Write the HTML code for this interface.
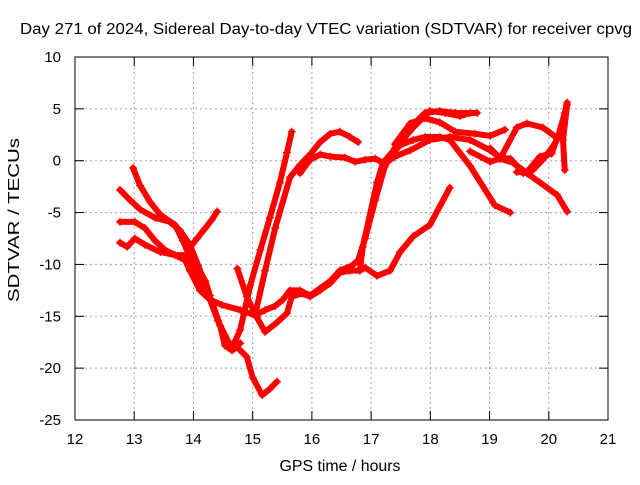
<!DOCTYPE html>
<html><head><meta charset="utf-8"><style>
body{margin:0;background:#fff;font-family:"Liberation Sans",sans-serif}
svg text{font-family:"Liberation Sans",sans-serif;font-size:14px;fill:#000}
</style></head><body>
<svg id="chart" width="640" height="480" xmlns="http://www.w3.org/2000/svg">
<rect width="640" height="480" fill="#fff"/>
<text x="20" y="34" style="font-size:15.5px" textLength="612" lengthAdjust="spacingAndGlyphs">Day 271 of 2024, Sidereal Day-to-day VTEC variation (SDTVAR) for receiver cpvg</text>
<text x="340" y="471" style="font-size:15.5px" text-anchor="middle" textLength="121" lengthAdjust="spacingAndGlyphs">GPS time / hours</text>
<text transform="translate(19,220) rotate(-90)" style="font-size:15.5px" text-anchor="middle" textLength="164" lengthAdjust="spacingAndGlyphs">SDTVAR / TECUs</text>
<g id="grid"></g><g id="series"></g>
<rect x="75" y="57" width="533" height="363" fill="none" stroke="#000" stroke-width="1"/>
<g id="ticks"></g>
</svg>
<script>
const xTicks=[12,13,14,15,16,17,18,19,20,21];
const yTicks=[-25,-20,-15,-10,-5,0,5,10];
const s1=[[12.76,-2.8],[12.93,-3.8],[13.10,-4.7],[13.35,-5.5],[13.60,-5.9],[13.77,-6.7],[13.94,-8.1],[14.08,-10.1],[14.20,-12.0],[14.33,-13.9],[14.45,-15.9],[14.53,-17.8],[14.65,-18.3],[14.79,-17.6]];
const s2=[[12.98,-0.7],[13.10,-2.4],[13.27,-4.0],[13.44,-5.2],[13.69,-6.2],[13.82,-7.7],[13.98,-9.8],[14.11,-11.6],[14.28,-13.4],[14.41,-15.4],[14.53,-16.8],[14.62,-17.8],[14.70,-18.1]];
const s3=[[12.76,-7.9],[12.88,-8.3],[13.01,-7.5],[13.18,-8.1],[13.44,-8.8],[13.69,-9.1],[13.86,-9.1],[14.03,-9.8],[14.20,-11.6],[14.28,-13.0]];
const s3b=[[13.91,-8.6],[14.06,-7.5],[14.20,-6.5],[14.31,-5.7],[14.40,-4.9]];
const s4=[[12.76,-5.9],[13.01,-5.9],[13.18,-6.5],[13.35,-7.7],[13.52,-8.6],[13.69,-9.1],[13.86,-9.6],[13.94,-10.6],[14.11,-12.5],[14.28,-13.4],[14.48,-13.9],[14.79,-14.4],[15.04,-14.9],[15.21,-14.4],[15.38,-14.0],[15.51,-13.4],[15.63,-12.5],[15.80,-12.5],[15.97,-13.0],[16.14,-12.3],[16.31,-11.6],[16.47,-10.6],[16.68,-10.1],[16.78,-9.6],[16.90,-7.5],[17.07,-3.8],[17.23,-0.6],[17.40,1.2],[17.66,3.2],[17.91,4.6],[18.16,4.8],[18.42,4.6],[18.79,4.6]];
const s5=[[14.65,-18.1],[14.79,-16.3],[14.96,-12.0],[15.13,-8.6],[15.29,-5.5],[15.46,-2.1],[15.58,0.8],[15.66,2.8]];
const s6=[[14.67,-17.6],[14.90,-18.9],[15.00,-20.9],[15.16,-22.6],[15.29,-22.0],[15.41,-21.3]];
const s7=[[14.74,-10.4],[14.90,-13.1],[15.07,-15.1],[15.21,-16.5],[15.41,-15.6],[15.58,-14.7],[15.66,-13.1],[15.83,-12.8],[15.97,-13.1],[16.14,-12.5],[16.31,-11.8],[16.47,-10.8],[16.64,-10.6],[16.81,-10.6],[16.86,-8.3],[17.10,-2.1],[17.20,-0.2],[17.44,1.4],[17.71,3.2],[17.99,4.8],[18.25,4.6],[18.50,4.3],[18.67,4.6]];
const s8=[[15.04,-14.9],[15.21,-10.6],[15.38,-6.5],[15.63,-1.6],[15.80,-0.4],[15.97,0.6],[16.14,1.8],[16.31,2.6],[16.47,2.8],[16.64,2.3],[16.78,1.8]];
const s9=[[15.80,-1.2],[15.97,0.1],[16.14,0.6],[16.31,0.4],[16.56,0.3],[16.73,-0.1],[16.90,0.1],[17.07,0.2],[17.23,-0.3],[17.40,0.4],[17.66,1.0],[17.99,2.0],[18.33,2.3],[18.67,2.0],[19.01,1.0],[19.18,0.3],[19.35,0.2],[19.57,-1.2],[19.73,-0.9],[19.90,0.1],[20.05,1.2],[20.14,2.0],[20.27,4.6],[20.31,5.6]];
const s10=[[16.81,-10.6],[16.90,-10.3],[17.10,-11.1],[17.32,-10.6],[17.49,-8.8],[17.71,-7.3],[17.99,-6.2],[18.33,-2.6]];
const s11=[[17.23,-0.2],[17.49,1.5],[17.71,2.0],[17.91,2.3],[18.16,2.3],[18.33,2.0],[18.67,-0.5],[19.09,-4.3],[19.35,-5.0]];
const s12=[[17.40,1.6],[17.66,3.6],[17.91,4.1],[18.16,3.7],[18.42,2.8],[18.75,2.6],[19.01,2.4],[19.26,3.0]];
const s13=[[18.67,0.9],[19.01,-0.1],[19.18,0.2],[19.46,3.2],[19.63,3.6],[19.90,3.2],[20.14,2.2],[20.05,0.7],[19.85,0.4],[19.63,-1.1],[19.46,-1.1]];
const s14=[[19.01,1.2],[19.18,0.2],[19.40,-0.2],[19.63,-1.2],[19.85,-2.1],[20.14,-3.3],[20.31,-4.9]];
const s15=[[20.31,5.4],[20.24,2.0],[20.27,-0.9]];
const allSeries=[s1,s2,s3,s3b,s4,s5,s6,s7,s8,s9,s10,s11,s12,s13,s14,s15];
const NS="http://www.w3.org/2000/svg";
const X=t=>75+(t-12)*(533/9);
const Y=v=>57+(10-v)*(363/35);
const grid=document.getElementById('grid'),ticks=document.getElementById('ticks'),ser=document.getElementById('series');
function mk(tag,attrs,parent){const e=document.createElementNS(NS,tag);for(const k in attrs)e.setAttribute(k,attrs[k]);parent.appendChild(e);return e;}
xTicks.forEach(t=>{
 const x=X(t);
 if(t>12&&t<21){const g=mk('line',{x1:x,x2:x,y1:57,y2:420,stroke:'#a0a0a0','stroke-dasharray':'2,3'},grid);
 
 }
 mk('line',{x1:x,x2:x,y1:420,y2:411,stroke:'#000'},ticks);
 mk('line',{x1:x,x2:x,y1:57,y2:66,stroke:'#000'},ticks);
 const l=mk('text',{x:x,y:444,'text-anchor':'middle',style:'font-size:15px'},ticks);l.textContent=t;
 
 
});
yTicks.forEach(v=>{
 const y=Y(v);
 if(v>-25&&v<10){const g=mk('line',{x1:75,x2:608,y1:y,y2:y,stroke:'#a0a0a0','stroke-dasharray':'2,3'},grid);
 
 }
 mk('line',{x1:75,x2:84,y1:y,y2:y,stroke:'#000'},ticks);
 mk('line',{x1:608,x2:599,y1:y,y2:y,stroke:'#000'},ticks);
 const l=mk('text',{x:61,y:y+5,'text-anchor':'end',style:'font-size:15px'},ticks);l.textContent=v;
 
 
});
allSeries.forEach((s,i)=>{
 const p=mk('polyline',{points:s.map(d=>X(d[0])+','+Y(d[1])).join(' '),fill:'none',stroke:'#f00','stroke-width':6,'stroke-linejoin':'round','stroke-linecap':'round'},ser);
 
 
 s.forEach(d=>{const x=X(d[0]),y=Y(d[1]);
  const m=mk('path',{d:`M${x-4},${y}H${x+4}M${x},${y-4}V${y+4}`,stroke:'#f00','stroke-width':1.2},ser);
  
  
 });
});
</script>
</body></html>
